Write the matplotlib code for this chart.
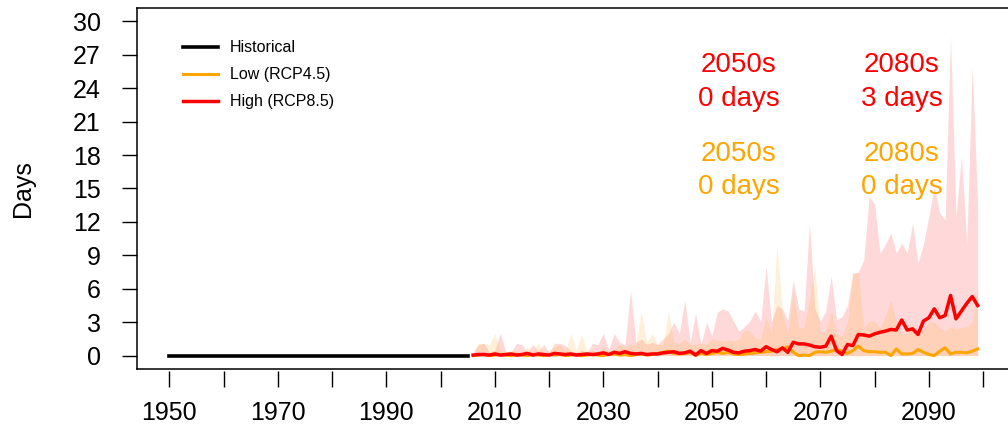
import numpy as np
import matplotlib
matplotlib.use('Agg')
import matplotlib.pyplot as plt

plt.rcParams['font.family'] = ['Liberation Sans', 'DejaVu Sans']

# historical (1950-2005) and projected (2006-2099) days per year
hist_years = np.arange(1950, 2006)
hist_days = [0] * 56
fut_years = np.arange(2006, 2100)

rcp85_med = [0.05, 0.1, 0.1, 0.05, 0.15, 0.05, 0.1, 0.15, 0.05, 0.1,
             0.2, 0.05, 0.15, 0.1, 0.05, 0.2, 0.15, 0.1, 0.15, 0.05,
             0.1, 0.15, 0.1, 0.15, 0.25, 0.1, 0.3, 0.2, 0.35, 0.2,
             0.15, 0.2, 0.1, 0.15, 0.15, 0.25, 0.3, 0.35, 0.2, 0.25,
             0.4, 0.05, 0.45, 0.2, 0.45, 0.4, 0.65, 0.5, 0.3, 0.25,
             0.4, 0.45, 0.55, 0.4, 0.8, 0.55, 0.35, 0.7, 0.3, 1.2,
             1.05, 1.05, 0.95, 0.8, 0.75, 0.85, 1.75, 0.45, 0.1, 1.0,
             0.9, 1.9, 1.85, 1.75, 1.95, 2.1, 2.2, 2.35, 2.3, 3.2,
             2.3, 2.4, 1.9, 3.1, 3.4, 4.2, 3.4, 3.6, 5.4, 3.3,
             4.0, 4.7, 5.3, 4.5]
rcp45_med = [0.0, 0.05, 0.1, 0.0, 0.05, 0.1, 0.05, 0.0, 0.1, 0.05,
             0.0, 0.1, 0.05, 0.0, 0.1, 0.05, 0.1, 0.0, 0.05, 0.1,
             0.0, 0.05, 0.1, 0.05, 0.0, 0.1, 0.15, 0.05, 0.1, 0.0,
             0.1, 0.15, 0.05, 0.1, 0.2, 0.3, 0.4, 0.2, 0.15, 0.2,
             0.3, 0.05, 0.2, 0.1, 0.2, 0.3, 0.2, 0.3, 0.15, 0.1,
             0.15, 0.2, 0.25, 0.3, 0.35, 0.4, 0.55, 0.6, 0.8, 0.3,
             0.0, 0.05, 0.0, 0.3, 0.35, 0.3, 0.4, 0.55, 0.4, 0.2,
             0.45, 0.85, 0.45, 0.35, 0.35, 0.3, 0.3, 0.0, 0.6, 0.15,
             0.15, 0.2, 0.55, 0.3, 0.1, 0.0, 0.4, 0.7, 0.15, 0.3,
             0.3, 0.25, 0.4, 0.6]
rcp85_max = [0.2, 1.0, 1.1, 0.3, 0.5, 2.0, 0.4, 0.3, 1.1, 1.0,
             0.3, 1.0, 0.4, 1.0, 0.3, 1.1, 1.1, 0.9, 0.4, 0.3,
             0.5, 0.3, 1.1, 1.0, 2.0, 0.5, 2.0, 1.2, 1.0, 5.9,
             1.2, 1.5, 1.0, 1.2, 1.0, 1.5, 2.0, 3.0, 2.0, 5.0,
             1.2, 3.8, 1.0, 3.0, 1.8, 3.9, 4.2, 4.0, 3.1, 2.2,
             2.6, 3.1, 4.0, 3.1, 8.0, 3.0, 4.5, 4.2, 3.2, 6.8,
             4.2, 4.0, 11.9, 4.2, 3.1, 4.0, 7.1, 3.2, 3.5, 4.5,
             7.4, 7.5, 8.6, 14.3, 13.6, 9.2, 10.0, 11.0, 9.2, 10.1,
             9.2, 11.9, 8.3, 10.0, 12.5, 15.2, 12.8, 12.2, 28.7, 12.5,
             17.9, 10.0, 26.0, 13.5]
rcp45_max = [0.3, 1.1, 1.1, 1.0, 2.0, 0.5, 0.3, 0.5, 0.4, 0.3,
             0.8, 0.3, 1.2, 0.3, 0.5, 0.8, 1.0, 0.4, 2.0, 0.5,
             1.9, 0.4, 0.5, 0.3, 0.8, 0.4, 0.6, 1.0, 0.8, 1.0,
             1.0, 4.0, 1.2, 2.0, 1.0, 1.0, 4.0, 1.2, 1.1, 1.5,
             1.0, 1.0, 1.1, 1.0, 1.5, 1.4, 1.3, 1.4, 1.3, 1.5,
             2.3, 2.2, 1.6, 1.5, 3.5, 2.0, 10.0, 3.8, 2.0, 5.9,
             2.5, 2.5, 5.0, 8.0, 2.0, 2.2, 4.0, 2.0, 1.8, 3.0,
             7.4, 7.4, 2.5, 3.1, 3.1, 2.5, 3.5, 5.0, 3.0, 2.0,
             2.0, 2.8, 2.2, 2.5, 3.0, 3.0, 2.5, 2.2, 2.6, 2.4,
             2.5, 2.6, 3.0, 6.2]

fig = plt.figure(figsize=(10.08, 4.36), dpi=100)
ax = fig.add_axes([137 / 1008, 1 - 369 / 436, 873 / 1008, 361 / 436])

ax.fill_between(fut_years, 0, rcp85_max, color='red', alpha=0.15, lw=0)
ax.fill_between(fut_years, 0, rcp45_max, color='orange', alpha=0.15, lw=0)
ax.plot(hist_years, hist_days, color='black', lw=2.6, label='Historical')
ax.plot(fut_years, rcp45_med, color='orange', lw=2.2, label='Low (RCP4.5)')
ax.plot(fut_years, rcp85_med, color='red', lw=2.5, label='High (RCP8.5)')

ax.set_xlim(1944.04, 2104.96)
ax.set_ylim(-1.2, 31.2)
for s in ax.spines.values():
    s.set_linewidth(1.1)

ax.set_yticks(np.arange(0, 31, 3))
ax.tick_params(axis='y', length=11, width=1.0, labelsize=18, pad=15)
ax.set_ylabel('Days', fontsize=18, labelpad=27)
ax.tick_params(axis='x', bottom=False, labelbottom=False)

# detached x axis like R's axis(line=...)
sec = ax.secondary_xaxis(-0.006)
sec.spines['bottom'].set_visible(False)
xt = np.arange(1950, 2101, 10)
sec.set_xticks(xt)
sec.set_xticklabels([str(y) if (y - 1950) % 20 == 0 and y < 2100 else '' for y in xt])
sec.tick_params(length=11.5, width=1.0, labelsize=18, pad=10)

ax.legend(loc='upper left', bbox_to_anchor=(0.045, 0.928), frameon=False,
          fontsize=11.5, handlelength=2.2, handletextpad=0.75,
          labelspacing=0.75, borderaxespad=0)

ax.text(2055, 26.05, '2050s', color='red', fontsize=20, ha='center', va='center')
ax.text(2055, 23.05, '0 days', color='red', fontsize=20, ha='center', va='center')
ax.text(2085, 26.05, '2080s', color='red', fontsize=20, ha='center', va='center')
ax.text(2085, 23.05, '3 days', color='red', fontsize=20, ha='center', va='center')
ax.text(2055, 18.1, '2050s', color='orange', fontsize=20, ha='center', va='center')
ax.text(2055, 15.1, '0 days', color='orange', fontsize=20, ha='center', va='center')
ax.text(2085, 18.1, '2080s', color='orange', fontsize=20, ha='center', va='center')
ax.text(2085, 15.1, '0 days', color='orange', fontsize=20, ha='center', va='center')

plt.savefig('out.png', dpi=100)
plt.close()
print('Saved: out.png')
